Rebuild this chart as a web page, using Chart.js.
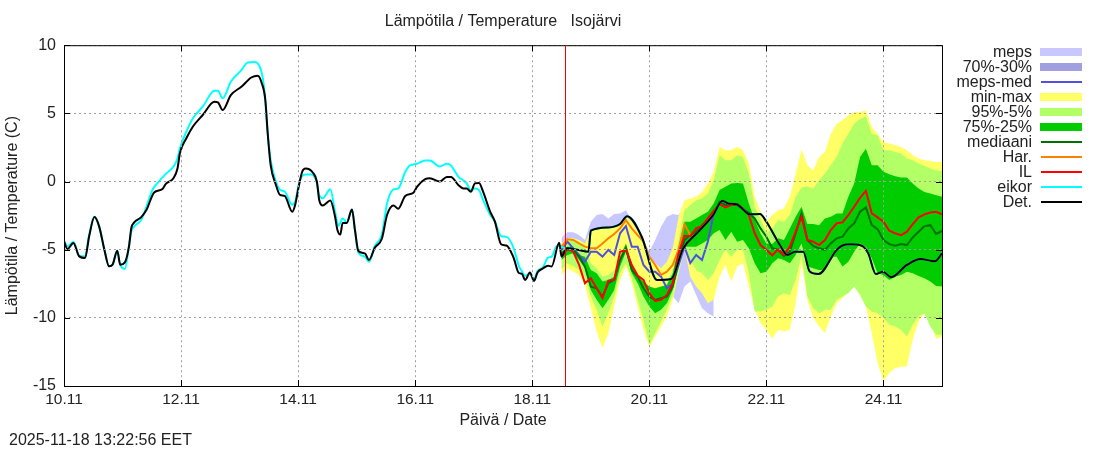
<!DOCTYPE html>
<html>
<head>
<meta charset="utf-8">
<title>Lämpötila / Temperature</title>
<script src="https://cdn.jsdelivr.net/npm/chart.js@4"></script>
<style>
    body { margin: 0; background: #fff; font-family: "Liberation Sans", Arial, sans-serif; color: #000; }
    #wrap { position: relative; width: 1100px; height: 450px; overflow: hidden; }
    canvas { position: absolute; left: 0; top: 0; }
    .legLabel { position: absolute; width: 100px; left: 932px; text-align: right; font-size: 16px; line-height: 16px; color: #222; }
    .legMark { position: absolute; }
    #stamp { position: absolute; left: 9px; top: 431px; font-size: 16px; line-height: 18px; color: #222; }
</style>
</head>
<body>
<div id="wrap">
    <canvas id="tempChart" width="1100" height="450"></canvas>
    <div id="legend"></div>
    <div id="stamp">2025-11-18 13:22:56 EET</div>
</div>
<script>
// Axis labels
const xTickLabels = ['10.11', '12.11', '14.11', '16.11', '18.11', '20.11', '22.11', '24.11'];
const nowDay = 18.565;

// Observed part, days counted in November
const detDays = [10.0, 10.06, 10.16, 10.26, 10.36, 10.43, 10.52, 10.6, 10.69, 10.77, 10.83, 10.91, 10.96, 11.04, 11.11, 11.15, 11.2, 11.32, 11.41, 11.54, 11.68, 11.74, 11.87, 11.94, 11.98, 12.09, 12.2, 12.37, 12.57, 12.63, 12.71, 12.85, 13.03, 13.2, 13.31, 13.38, 13.44, 13.48, 13.53, 13.62, 13.69, 13.77, 13.9, 13.95, 14.01, 14.07, 14.13, 14.25, 14.32, 14.36, 14.42, 14.55, 14.63, 14.67, 14.72, 14.76, 14.83, 14.92, 14.97, 15.03, 15.14, 15.21, 15.31, 15.43, 15.52, 15.63, 15.71, 15.83, 15.97, 16.03, 16.17, 16.25, 16.42, 16.54, 16.61, 16.74, 16.82, 16.88, 16.95, 17.02, 17.09, 17.16, 17.28, 17.36, 17.47, 17.56, 17.68, 17.77, 17.82, 17.88, 17.96, 18.03, 18.09, 18.18, 18.27, 18.33, 18.46, 18.5];
const detValues = [-4.39, -4.95, -4.51, -5.49, -5.61, -4.02, -2.61, -3.29, -5.0, -6.22, -6.1, -5.07, -6.1, -5.93, -4.76, -3.41, -3.0, -2.61, -2.07, -0.8, -0.56, -0.17, 0.24, 0.98, 2.07, 3.17, 4.02, 4.88, 5.85, 5.8, 5.24, 6.34, 6.95, 7.63, 7.76, 7.2, 5.98, 3.54, 1.22, -0.24, -0.98, -1.05, -2.22, -1.71, -0.37, 0.73, 0.95, 0.66, 0, -1.35, -1.76, -1.4, -2.56, -3.53, -3.89, -3.04, -3.04, -2.05, -3.53, -5.1, -5.27, -5.75, -4.86, -4.2, -2.44, -1.76, -2.0, -1.06, -0.82, -0.39, 0.17, 0.24, 0, 0.34, 0.34, -0.27, -0.51, -0.51, -0.75, -0.14, -0.1, -0.75, -2.2, -2.92, -4.61, -4.69, -5.58, -6.71, -6.76, -7.22, -6.67, -7.29, -6.67, -6.38, -6.18, -6.23, -4.49, -5.51];
const eikorDays = [10.0, 10.06, 10.16, 10.26, 10.36, 10.43, 10.52, 10.6, 10.69, 10.77, 10.83, 10.91, 10.96, 11.04, 11.11, 11.15, 11.2, 11.32, 11.41, 11.51, 11.62, 11.74, 11.87, 11.94, 11.98, 12.09, 12.2, 12.37, 12.57, 12.63, 12.71, 12.85, 13.03, 13.14, 13.25, 13.34, 13.41, 13.48, 13.53, 13.62, 13.69, 13.77, 13.9, 13.95, 14.01, 14.07, 14.13, 14.23, 14.32, 14.36, 14.42, 14.55, 14.63, 14.69, 14.76, 14.83, 14.92, 14.97, 15.03, 15.14, 15.21, 15.31, 15.43, 15.52, 15.63, 15.71, 15.83, 15.91, 16.03, 16.17, 16.25, 16.42, 16.54, 16.61, 16.74, 16.82, 16.88, 16.95, 17.02, 17.09, 17.16, 17.28, 17.36, 17.47, 17.56, 17.68, 17.77, 17.82, 17.88, 17.96, 18.03, 18.09, 18.18, 18.27, 18.33, 18.42];
const eikorValues = [-4.32, -4.76, -4.41, -5.44, -5.49, -3.9, -2.56, -3.29, -5.0, -6.22, -6.1, -5.07, -6.1, -6.41, -4.76, -3.66, -3.29, -2.8, -1.83, -0.61, 0, 0.56, 1.1, 1.71, 2.44, 3.66, 4.63, 5.49, 6.66, 6.66, 6.1, 7.32, 8.17, 8.73, 8.76, 8.46, 7.2, 3.54, 1.59, 0, -0.61, -0.73, -1.71, -1.46, -0.24, 0.41, 0.51, 0.51, -0.12, -0.99, -1.23, -0.56, -2.2, -3.24, -2.71, -3.0, -2.05, -3.53, -5.22, -5.51, -5.89, -4.73, -3.89, -1.59, -0.58, -0.51, 0.7, 1.18, 1.3, 1.55, 1.55, 1.11, 1.3, 1.18, 0.34, 0.1, -0.14, -0.63, -0.51, -0.63, -1.35, -2.44, -2.92, -4.01, -4.06, -4.86, -6.18, -6.55, -6.91, -6.79, -7.15, -6.55, -6.3, -5.58, -5.51, -4.73];

// Deterministic forecast after the observed part
const detFcDays = [18.59, 18.79, 18.96, 19.0, 19.3, 19.5, 19.62, 19.87, 20.13, 20.37, 20.58, 20.84, 21.09, 21.25, 21.35, 21.49, 21.72, 21.89, 22.0, 22.23, 22.36, 22.49, 22.63, 22.74, 22.89, 23.2, 23.29, 23.43, 23.63, 23.74, 23.87, 23.99, 24.13, 24.4, 24.63, 24.88, 25.0];
const detFcValues = [-4.9, -5.02, -5.15, -3.61, -3.37, -3.12, -2.54, -4.05, -7.22, -7.15, -4.9, -3.68, -2.46, -1.41, -1.61, -1.66, -2.41, -2.39, -2.95, -4.66, -5.39, -5.15, -5.15, -6.6, -6.78, -5.02, -4.71, -4.61, -4.71, -5.27, -6.78, -6.61, -7.02, -6.12, -5.68, -5.85, -5.27];

// Shared time grid of the ensemble forecast
const fcDays = [18.5, 18.6, 18.7, 18.8, 18.9, 19.0, 19.1, 19.2, 19.3, 19.4, 19.5, 19.6, 19.7, 19.8, 19.9, 20.0, 20.1, 20.2, 20.3, 20.4, 20.5, 20.6, 20.7, 20.8, 20.9, 21.0, 21.1, 21.2, 21.3, 21.4, 21.5, 21.6, 21.7, 21.8, 21.9, 22.0, 22.1, 22.2, 22.3, 22.4, 22.5, 22.6, 22.7, 22.8, 22.9, 23.0, 23.1, 23.2, 23.3, 23.4, 23.5, 23.6, 23.7, 23.8, 23.9, 24.0, 24.1, 24.2, 24.3, 24.4, 24.5, 24.6, 24.7, 24.8, 24.9, 25.0];

const maxValues = [-4.54, -4.17, -4.17, -4.29, -4.54, -3.56, -3.51, -3.46, -3.37, -3.27, -3.12, -2.59, -2.95, -3.68, -4.41, -5.51, -6.0, -6.37, -5.88, -4.9, -2.59, -1.37, -1.24, -1.12, -0.76, -0.15, 0.71, 2.54, 2.29, 2.29, 2.54, 2.29, 1.32, -1.12, -2.22, -2.95, -2.46, -2.1, -1.98, -1.12, 0.59, 2.34, 1.2, 0.83, 1.8, 2.17, 3.51, 4.24, 4.49, 4.85, 5.1, 5.1, 5.22, 4.0, 3.51, 2.9, 2.78, 2.66, 2.54, 2.29, 1.93, 1.68, 1.56, 1.51, 1.44, 1.44];
const minValues = [-6.85, -6.37, -6.61, -6.85, -7.59, -9.29, -11.0, -12.22, -11.12, -9.17, -7.22, -6.24, -7.46, -9.17, -10.88, -12.15, -11.37, -10.63, -9.9, -8.68, -6.73, -4.9, -6.98, -7.71, -8.2, -8.93, -8.68, -6.98, -6.12, -7.34, -6.24, -6.0, -7.71, -9.41, -10.39, -10.88, -11.54, -10.88, -11.0, -10.88, -8.93, -6.0, -8.68, -10.02, -10.63, -11.12, -9.9, -8.93, -8.56, -8.07, -7.71, -8.32, -9.17, -11.12, -13.32, -14.66, -14.05, -13.68, -13.61, -13.56, -11.61, -10.27, -9.66, -10.39, -11.56, -11.37];
const p95Values = [-4.78, -4.41, -4.29, -4.54, -4.9, -6.0, -6.37, -6.98, -6.85, -6.49, -5.76, -4.78, -6.0, -6.73, -7.34, -8.2, -8.32, -8.07, -7.46, -6.49, -4.29, -2.1, -1.73, -1.37, -1.24, -0.88, 0.1, 1.93, 1.56, 1.56, 1.93, 1.8, 0.59, -1.85, -2.71, -3.8, -3.44, -2.83, -2.95, -2.46, -1.12, -0.44, -0.34, -0.51, 0.1, 0.59, 1.2, 1.8, 2.78, 3.51, 4.24, 4.61, 4.78, 3.51, 3.39, 2.29, 2.29, 2.17, 2.05, 1.68, 1.56, 1.32, 1.15, 0.95, 0.83, 0.78];
const p5Values = [-6.49, -6.0, -6.24, -6.49, -6.98, -8.44, -9.41, -10.63, -9.66, -8.44, -6.73, -6.0, -7.1, -8.68, -10.15, -11.98, -11.12, -10.27, -9.41, -8.32, -6.49, -4.78, -5.76, -6.49, -6.73, -7.22, -6.73, -5.76, -5.02, -5.51, -5.02, -5.02, -6.73, -9.54, -9.54, -9.41, -9.17, -8.44, -8.2, -8.32, -7.22, -5.39, -8.44, -9.29, -9.66, -9.41, -9.41, -8.68, -8.44, -8.2, -7.71, -8.32, -9.17, -9.54, -9.66, -10.02, -10.51, -10.63, -10.88, -11.37, -10.51, -9.9, -9.66, -10.63, -11.24, -11.24];
const p75Values = [-5.15, -4.78, -4.78, -5.39, -5.51, -6.49, -6.73, -7.34, -7.22, -6.98, -5.51, -4.54, -6.0, -6.98, -7.34, -7.71, -7.83, -7.71, -7.59, -6.73, -4.78, -2.95, -2.95, -2.71, -2.46, -2.22, -1.61, -0.63, -0.39, -0.15, -0.1, -0.15, -1.61, -2.83, -3.8, -4.54, -4.59, -4.17, -4.29, -3.44, -2.59, -1.85, -3.12, -3.12, -3.2, -2.71, -2.59, -2.34, -2.34, -1.12, -0.15, 1.8, 2.41, 1.2, 1.2, 0.71, 0.54, 0.39, 0.29, 0.29, -0.15, -0.51, -0.76, -0.88, -1.0, -1.12];
const p25Values = [-5.76, -5.39, -5.27, -5.76, -6.37, -7.95, -8.68, -9.29, -8.68, -7.95, -6.24, -5.15, -6.73, -7.46, -8.44, -9.17, -9.66, -9.41, -8.93, -7.95, -6.24, -4.78, -4.78, -4.78, -4.54, -4.29, -3.8, -3.56, -4.29, -3.68, -4.41, -4.29, -4.9, -6.0, -6.73, -6.61, -6.0, -5.63, -5.76, -6.0, -5.39, -4.54, -6.24, -6.37, -6.49, -6.49, -5.51, -5.51, -6.24, -5.88, -5.15, -4.54, -4.78, -5.63, -6.73, -6.85, -7.22, -6.98, -6.85, -6.61, -6.73, -6.93, -7.1, -7.34, -7.66, -7.71];
const medianValues = [-5.27, -4.98, -5.02, -5.51, -6.24, -7.71, -7.83, -8.44, -7.46, -7.22, -5.76, -4.9, -6.49, -6.98, -7.83, -8.44, -8.68, -8.56, -8.44, -7.71, -5.76, -4.29, -3.93, -3.68, -3.2, -2.83, -2.34, -1.49, -1.73, -1.66, -1.73, -2.05, -2.29, -2.71, -3.44, -4.05, -4.9, -5.02, -5.46, -5.15, -3.8, -2.34, -4.29, -4.73, -4.9, -5.02, -4.54, -4.17, -4.05, -3.44, -3.07, -2.22, -1.9, -3.2, -3.49, -4.29, -4.59, -4.71, -4.59, -4.66, -4.1, -3.68, -3.27, -3.2, -3.85, -3.63];
const ilValues = [-5.51, -4.9, -5.15, -6.12, -7.46, -7.1, -7.83, -8.56, -7.27, -7.22, -5.15, -5.02, -6.12, -6.9, -7.22, -8.2, -8.76, -8.68, -8.32, -7.46, -5.27, -4.0, -4.0, -3.44, -3.27, -2.71, -2.15, -1.66, -1.9, -1.73, -1.66, -1.98, -2.46, -3.8, -4.66, -5.02, -5.41, -4.98, -5.39, -4.78, -3.68, -2.59, -4.29, -4.41, -4.66, -4.29, -3.56, -3.07, -3.0, -2.46, -1.85, -1.2, -0.68, -2.34, -2.63, -2.95, -3.61, -3.8, -3.93, -3.68, -3.12, -2.63, -2.41, -2.27, -2.22, -2.41];
const harValues = [-4.78, -4.24, -4.29, -4.54, -4.78, -4.9, -4.9, -4.54, -4.17, -3.85, -3.44, -2.83, -3.44, -3.93, -4.41, -5.51, -6.12, -6.85, -6.61, -6.12, -5.02, -3.12, -3.93];
const mepsMedValues = [-5.02, -4.41, -4.9, -5.39, -5.88, -5.15, -5.15, -5.51, -5.02, -5.39, -3.8, -3.27, -4.78, -4.78, -6.12, -6.61, -6.61, -6.98, -7.83, -7.51, -6.12, -4.78, -5.98, -5.39, -5.76, -4.41, -2.34];
const mepsMaxValues = [-4.1, -3.73, -3.73, -3.93, -4.29, -2.95, -2.46, -2.39, -2.71, -2.39, -2.34, -2.1, -2.83, -3.68, -4.29, -5.15, -4.29, -3.32, -2.59, -2.39, -2.46, -1.85, -1.85, -1.85, -1.85, -1.85, -1.85];
const mepsMinValues = [-6.24, -6.0, -6.0, -6.24, -6.73, -7.95, -8.68, -9.17, -8.44, -7.71, -6.24, -5.51, -6.73, -7.71, -8.44, -9.17, -9.17, -9.17, -8.2, -8.44, -8.93, -7.71, -7.34, -8.32, -9.29, -9.66, -9.9];
// 70%-30% stays hidden behind the other bands in the picture
const meps70Values = [-4.6, -4.1, -4.5, -5.0, -5.4, -4.6, -4.5, -5.0, -4.5, -4.7, -3.4, -3.0, -4.2, -4.3, -5.5, -6.1, -6.2, -6.6];
const meps30Values = [-5.4, -4.8, -5.3, -5.8, -6.3, -5.7, -5.8, -6.0, -5.5, -5.9, -4.3, -3.7, -5.2, -5.3, -6.6, -7.1, -7.0, -7.3];

const legendRows = [
    { label: 'meps', color: '#c8c8ff', band: true },
    { label: '70%-30%', color: '#a0a0e0', band: true },
    { label: 'meps-med', color: '#5050e0' },
    { label: 'min-max', color: '#ffff66', band: true },
    { label: '95%-5%', color: '#b3ff66', band: true },
    { label: '75%-25%', color: '#00cc00', band: true },
    { label: 'mediaani', color: '#007000' },
    { label: 'Har.', color: '#ff8000' },
    { label: 'IL', color: '#ff0000' },
    { label: 'eikor', color: '#00ffff' },
    { label: 'Det.', color: '#000000' }
];

function points(days, values) {
    return values.map((v, i) => ({ x: days[i], y: v }));
}

function bandPair(name, upper, lower, color, order) {
    return [
        { label: name, data: points(fcDays, lower), fill: '+1', backgroundColor: color, borderWidth: 0, pointRadius: 0, order: order },
        { label: name + ' top', data: points(fcDays, upper), fill: false, borderWidth: 0, pointRadius: 0, order: order }
    ];
}

function lineSet(name, days, values, color, order, smooth) {
    const set = { label: name, data: points(days, values), borderColor: color, borderWidth: 2, pointRadius: 0, fill: false, order: order };
    if (smooth) set.cubicInterpolationMode = 'monotone';
    return set;
}

// Plot frame, inward ticks and the "now" line
const framePlugin = {
    id: 'frame',
    afterDraw(chart) {
        const { ctx, chartArea: a, scales } = chart;
        ctx.save();
        ctx.strokeStyle = '#000';
        ctx.lineWidth = 1;
        ctx.beginPath();
        scales.y.ticks.forEach(t => {
            const y = Math.round(scales.y.getPixelForValue(t.value)) + 0.5;
            ctx.moveTo(a.left, y); ctx.lineTo(a.left + 6, y);
            ctx.moveTo(a.right, y); ctx.lineTo(a.right - 6, y);
        });
        scales.x.ticks.forEach(t => {
            const x = Math.round(scales.x.getPixelForValue(t.value)) + 0.5;
            ctx.moveTo(x, a.bottom); ctx.lineTo(x, a.bottom - 6);
            ctx.moveTo(x, a.top); ctx.lineTo(x, a.top + 6);
        });
        ctx.stroke();
        ctx.strokeRect(a.left + 0.5, a.top + 0.5, a.right - a.left, a.bottom - a.top);
        const nowX = Math.round(scales.x.getPixelForValue(nowDay)) + 0.5;
        ctx.strokeStyle = '#ff0000';
        ctx.beginPath();
        ctx.moveTo(nowX, a.top);
        ctx.lineTo(nowX, a.bottom);
        ctx.stroke();
        ctx.restore();
    }
};

const fontFamily = '"Liberation Sans", Arial, sans-serif';

new Chart(document.getElementById('tempChart').getContext('2d'), {
    type: 'line',
    plugins: [framePlugin],
    data: {
        datasets: [
            ...bandPair('meps', mepsMaxValues, mepsMinValues, '#c8c8ff', 20),
            ...bandPair('70%-30%', meps70Values, meps30Values, '#a0a0e0', 19),
            ...bandPair('min-max', maxValues, minValues, '#ffff66', 18),
            ...bandPair('95%-5%', p95Values, p5Values, '#b3ff66', 17),
            ...bandPair('75%-25%', p75Values, p25Values, '#00cc00', 16),
            lineSet('meps-med', fcDays, mepsMedValues, '#5050e0', 10, false),
            lineSet('mediaani', fcDays, medianValues, '#007000', 9, false),
            lineSet('Har.', fcDays, harValues, '#ff8000', 8, false),
            lineSet('IL', fcDays, ilValues, '#ff0000', 7, false),
            lineSet('eikor', eikorDays.concat(detFcDays), eikorValues.concat(detFcValues), '#00ffff', 6, true),
            lineSet('Det.', detDays.concat(detFcDays), detValues.concat(detFcValues), '#000000', 5, true)
        ]
    },
    options: {
        responsive: false,
        animation: false,
        events: [],
        layout: { padding: { left: 3, right: 158, top: 0, bottom: 20 } },
        plugins: {
            legend: { display: false },
            tooltip: { enabled: false },
            title: {
                display: true,
                fullSize: false,
                text: 'Lämpötila / Temperature   Isojärvi',
                color: '#222',
                font: { family: fontFamily, size: 16, weight: 'normal' },
                padding: { top: 12, bottom: 14 }
            }
        },
        scales: {
            x: {
                type: 'linear',
                min: 10,
                max: 25,
                afterFit(scale) { scale.height = 44; },
                ticks: {
                    stepSize: 2,
                    includeBounds: false,
                    maxRotation: 0,
                    padding: 4,
                    color: '#222',
                    font: { family: fontFamily, size: 15.5 },
                    callback: v => xTickLabels[(v - 10) / 2]
                },
                grid: { z: 1, color: '#a0a0a0', lineWidth: 1, drawTicks: false },
                border: { dash: [2, 3], display: false },
                title: {
                    display: true,
                    text: 'Päivä / Date',
                    color: '#222',
                    font: { family: fontFamily, size: 16 },
                    padding: { top: 2, bottom: 0 }
                }
            },
            y: {
                min: -15,
                max: 10,
                afterFit(scale) { scale.width = 61; },
                ticks: {
                    stepSize: 5,
                    padding: 8,
                    color: '#222',
                    font: { family: fontFamily, size: 16 }
                },
                grid: { z: 1, color: '#a0a0a0', lineWidth: 1, drawTicks: false },
                border: { dash: [2, 3], display: false },
                title: {
                    display: true,
                    text: 'Lämpötila / Temperature (C)',
                    color: '#222',
                    font: { family: fontFamily, size: 16 },
                    padding: { top: 0, bottom: 0 }
                }
            }
        }
    }
});

// Legend in the gnuplot layout: text on the left, sample on the right
const legendBox = document.getElementById('legend');
legendRows.forEach((row, i) => {
    const mid = 51.7 + i * 15;
    const text = document.createElement('div');
    text.className = 'legLabel';
    text.style.top = (mid - 8) + 'px';
    text.textContent = row.label;
    legendBox.appendChild(text);
    const mark = document.createElement('div');
    mark.className = 'legMark';
    mark.style.background = row.color;
    mark.style.left = row.band ? '1040px' : '1041px';
    mark.style.width = row.band ? '42px' : '41px';
    mark.style.height = row.band ? '8px' : '2px';
    mark.style.top = (Math.round(mid) - (row.band ? 4 : 1)) + 'px';
    legendBox.appendChild(mark);
});
</script>
</body>
</html>
